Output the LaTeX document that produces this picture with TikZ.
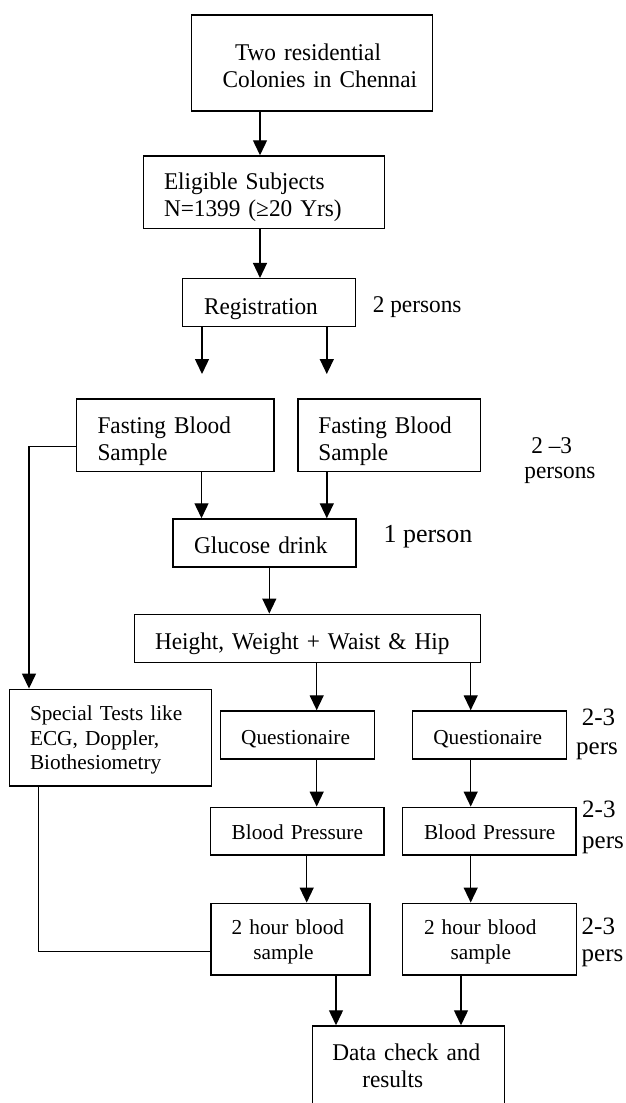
\documentclass[tikz,border=0pt]{standalone}
\usepackage{fontspec}
\setmainfont{Liberation Serif}
\newfontfamily\bigf[FakeStretch=0.97]{Liberation Serif}
\usetikzlibrary{arrows.meta}
\setlength{\parindent}{0pt}
\newcommand{\up}[1]{\rule{0pt}{#1pt}}
\begin{document}
\begin{tikzpicture}[x=1pt,y=-1pt,
  box/.style={draw, line width=1.5pt, rectangle, inner sep=0pt, align=left,
    font=\bigf\fontsize{24}{27.5}\selectfont},
  sbox/.style={box, font=\fontsize{21.3}{24.8}\selectfont},
  arr/.style={line width=1.4pt, -{Triangle[length=15pt,width=14pt]}},
  ln/.style={line width=1.4pt},
  lab/.style={inner sep=0pt, align=left}]
\useasboundingbox (0,0) rectangle (626,1103);
% boxes
\node[box, minimum width=240.6pt, minimum height=96pt, text width=240.6pt] (col) at (312,63)
  {\up{22.5}\hspace*{43.3pt}Two residential\\\hspace*{31pt}Colonies in Chennai};
\node[box, minimum width=240.6pt, minimum height=72.7pt, text width=240.6pt] (elig) at (264,192.35)
  {\up{26.5}\hspace*{20.3pt}Eligible Subjects\\\hspace*{20.3pt}N=1399 (≥20 Yrs)};
\node[box, minimum width=173.2pt, minimum height=48pt, text width=173.2pt] (reg) at (269,302.7)
  {\up{28.5}\hspace*{21.6pt}Registration};
\node[box, minimum width=197.7pt, minimum height=72.3pt, text width=197.7pt] (fast1) at (175.35,435.15)
  {\up{28.5}\hspace*{21pt}Fasting Blood\\\hspace*{21pt}Sample};
\node[box, minimum width=182.5pt, minimum height=72.3pt, text width=182.5pt] (fast2) at (389.25,435.15)
  {\up{28.5}\hspace*{20.4pt}Fasting Blood\\\hspace*{20.4pt}Sample};
\node[box, minimum width=183.2pt, minimum height=48pt, text width=183.2pt] (gluc) at (264.4,543)
  {\up{20.5}\hspace*{21.2pt}Glucose drink};
\node[box, minimum width=346pt, minimum height=48.4pt, text width=346pt] (hw) at (307.5,638.5)
  {\up{28}\hspace*{20.5pt}Height, Weight + Waist \& Hip};
\node[sbox, minimum width=202pt, minimum height=96.7pt, text width=202pt] (spec) at (110.3,737.65)
  {\up{19.6}\hspace*{20.7pt}Special Tests like\\\hspace*{20.7pt}ECG, Doppler,\\\hspace*{20.7pt}Biothesiometry};
\node[sbox, minimum width=154pt, minimum height=48pt, text width=154pt] (q1) at (297.7,735)
  {\up{22}\hspace*{20.5pt}Questionaire};
\node[sbox, minimum width=154pt, minimum height=48pt, text width=154pt] (q2) at (489.7,735)
  {\up{22}\hspace*{20.6pt}Questionaire};
\node[sbox, minimum width=173.3pt, minimum height=47.7pt, text width=173.3pt] (bp1) at (297.35,831.15)
  {\up{16.6}\hspace*{21pt}Blood Pressure};
\node[sbox, minimum width=173.3pt, minimum height=47.7pt, text width=173.3pt] (bp2) at (489.35,831.15)
  {\up{16.6}\hspace*{21.3pt}Blood Pressure};
\node[sbox, minimum width=159pt, minimum height=71.7pt, text width=159pt] (hr1) at (290.5,939.15)
  {\up{20}\hspace*{20.7pt}2 hour blood\\\hspace*{42.3pt}sample};
\node[sbox, minimum width=174pt, minimum height=71.7pt, text width=174pt] (hr2) at (489.7,939.15)
  {\up{20}\hspace*{21.3pt}2 hour blood\\\hspace*{48pt}sample};
\node[box, minimum width=192pt, minimum height=80pt, text width=192pt] (data) at (408.3,1066)
  {\hspace*{20pt}Data check and\\\hspace*{50pt}results};
% side labels
\node[lab, anchor=west, font=\bigf\fontsize{24}{28}\selectfont] (l1) at (372.7,307.5) {2 persons};
\node[lab, anchor=west, font=\bigf\fontsize{24}{25}\selectfont] (l2) at (524.2,460.5) {\hspace*{7pt}2 –3\\persons};
\node[lab, anchor=west, font=\fontsize{26}{30}\selectfont] (l3) at (383.3,536.5) {1 person};
\node[lab, anchor=west, font=\fontsize{25}{29}\selectfont] (l4) at (576,734.7) {\hspace*{5.7pt}2-3\\pers};
\node[lab, anchor=west, font=\fontsize{25}{31}\selectfont] (l5) at (582,827) {2-3\\pers};
\node[lab, anchor=west, font=\fontsize{25}{27}\selectfont] (l6) at (581.5,942) {2-3\\pers};
% coordinates
\coordinate (xa) at (260,0);
\coordinate (r1e) at (202,374);
\coordinate (r2e) at (326.8,374);
\coordinate (xf1) at (201.5,0);
\coordinate (xf2) at (326.8,0);
\coordinate (xg) at (269.3,0);
\coordinate (cor) at (29,446.7);
\coordinate (xq1) at (316.7,0);
\coordinate (xq2) at (470.7,0);
\coordinate (xb1) at (306.7,0);
\coordinate (cs) at (38.3,951.5);
\coordinate (xd1) at (336,0);
\coordinate (xd2) at (461,0);
% connectors
\draw[arr] (col.south -| xa) -- (elig.north -| xa);
\draw[arr] (elig.south -| xa) -- (reg.north -| xa);
\draw[arr] (reg.south -| r1e) -- (r1e);
\draw[arr] (reg.south -| r2e) -- (r2e);
\draw[arr] (fast1.south -| xf1) -- (gluc.north -| xf1);
\draw[arr] (fast2.south -| xf2) -- (gluc.north -| xf2);
\draw[arr] (gluc.south -| xg) -- (hw.north -| xg);
\draw[arr] (fast1.west |- cor) -- (cor) -- (spec.north -| cor);
\draw[arr] (hw.south -| xq1) -- (q1.north -| xq1);
\draw[arr] (hw.south -| xq2) -- (q2.north -| xq2);
\draw[arr] (q1.south -| xq1) -- (bp1.north -| xq1);
\draw[arr] (q2.south -| xq2) -- (bp2.north -| xq2);
\draw[arr] (bp1.south -| xb1) -- (hr1.north -| xb1);
\draw[arr] (bp2.south -| xq2) -- (hr2.north -| xq2);
\draw[ln] (spec.south -| cs) -- (cs) -- (hr1.west |- cs);
\draw[arr] (hr1.south -| xd1) -- (data.north -| xd1);
\draw[arr] (hr2.south -| xd2) -- (data.north -| xd2);
\end{tikzpicture}
\end{document}
